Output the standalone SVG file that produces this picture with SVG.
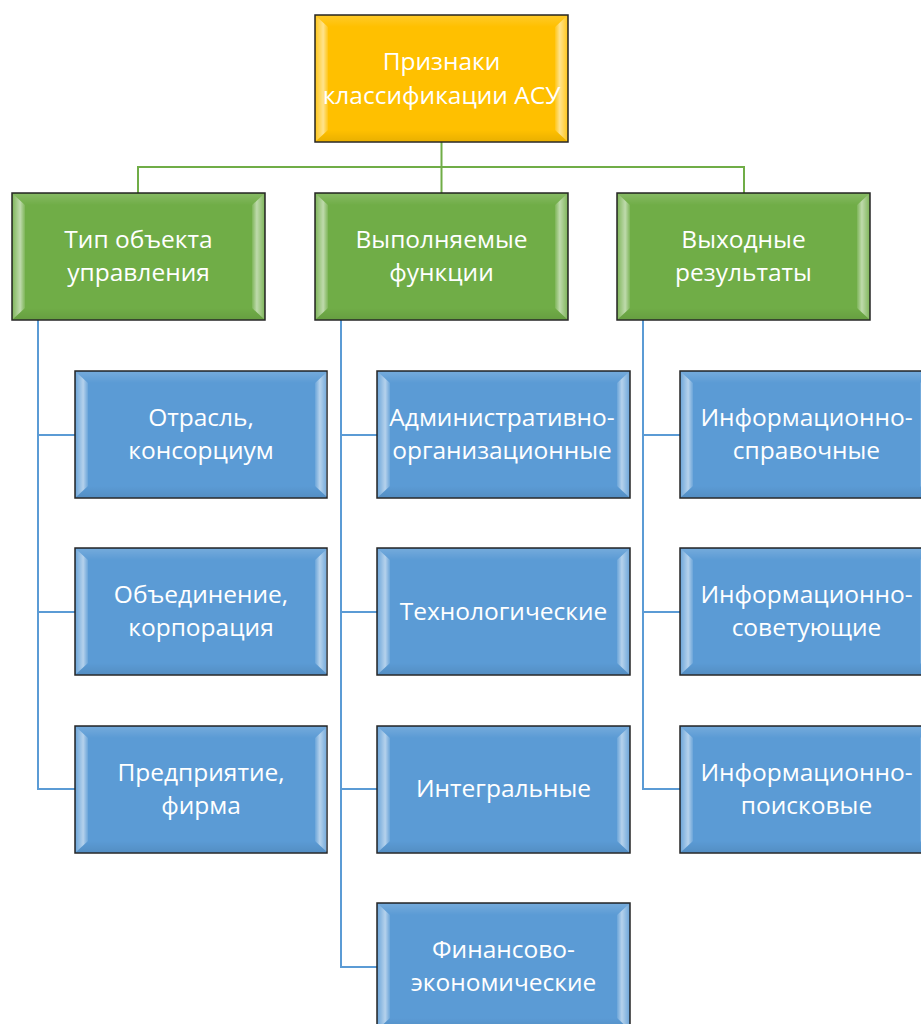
<svg xmlns="http://www.w3.org/2000/svg" width="921" height="1024" viewBox="0 0 921 1024">
<style>
.box{stroke:#262626;stroke-width:1.5}
.o{fill:#FFC000}
.g{fill:#70AD47}
.b{fill:#5B9BD5}
.bl{fill:url(#bevL)}
.br{fill:url(#bevR)}
.bt{fill:url(#bevT)}
.bb{fill:url(#bevB)}
.t{font-family:"Open Sans","Liberation Sans",sans-serif;font-size:24.5px;fill:#ffffff;text-anchor:middle}
.cg{fill:none;stroke:#70AD47;stroke-width:2}
.cb{fill:none;stroke:#5B9BD5;stroke-width:2}
</style>
<defs>
<linearGradient id="bevL" x1="0" y1="0" x2="1" y2="0">
<stop offset="0" stop-color="#ffffff" stop-opacity="0.15"/>
<stop offset="0.6" stop-color="#ffffff" stop-opacity="0.55"/>
<stop offset="1" stop-color="#ffffff" stop-opacity="0.1"/>
</linearGradient>
<linearGradient id="bevR" x1="1" y1="0" x2="0" y2="0">
<stop offset="0" stop-color="#ffffff" stop-opacity="0.15"/>
<stop offset="0.6" stop-color="#ffffff" stop-opacity="0.55"/>
<stop offset="1" stop-color="#ffffff" stop-opacity="0.1"/>
</linearGradient>
<linearGradient id="bevT" x1="0" y1="0" x2="0" y2="1">
<stop offset="0" stop-color="#ffffff" stop-opacity="0.15"/>
<stop offset="1" stop-color="#ffffff" stop-opacity="0"/>
</linearGradient>
<linearGradient id="bevB" x1="0" y1="1" x2="0" y2="0">
<stop offset="0" stop-color="#000000" stop-opacity="0.08"/>
<stop offset="1" stop-color="#000000" stop-opacity="0"/>
</linearGradient>
<g id="bevel">
<polygon class="bt" points="1,1 252,1 240,12 13,12"/>
<polygon class="bb" points="1,126 252,126 240,115 13,115"/>
<polygon class="bl" points="1,1 13,12 13,115 1,126"/>
<polygon class="br" points="252,1 240,12 240,115 252,126"/>
</g>
</defs>

<g id="connectors">
<path class="cg" d="M441.5,142 V193 M138,193 V167 H744 V193"/>
<path class="cb" d="M38,320 V789 H75 M38,435 H75 M38,612 H75"/>
<path class="cb" d="M341,320 V967 H377 M341,435 H377 M341,612 H377 M341,789 H377"/>
<path class="cb" d="M643,320 V789 H680 M643,435 H680 M643,612 H680"/>
</g>

<g id="root">
<rect class="box o" x="315" y="15" width="253" height="127"/>
<use href="#bevel" x="315" y="15"/>
<text class="t" x="441.5" y="70">Признаки</text>
<text class="t" x="441.5" y="104">классификации АСУ</text>
</g>

<g id="type">
<rect class="box g" x="12" y="193" width="253" height="127"/>
<use href="#bevel" x="12" y="193"/>
<text class="t" x="138.5" y="248">Тип объекта</text>
<text class="t" x="138.5" y="281">управления</text>
</g>
<g id="functions">
<rect class="box g" x="315" y="193" width="253" height="127"/>
<use href="#bevel" x="315" y="193"/>
<text class="t" x="441.5" y="248">Выполняемые</text>
<text class="t" x="441.5" y="281">функции</text>
</g>
<g id="results">
<rect class="box g" x="617" y="193" width="253" height="127"/>
<use href="#bevel" x="617" y="193"/>
<text class="t" x="743.5" y="248">Выходные</text>
<text class="t" x="743.5" y="281">результаты</text>
</g>

<g id="branch">
<rect class="box b" x="75" y="371" width="252" height="127"/>
<use href="#bevel" x="75" y="371"/>
<text class="t" x="201" y="426">Отрасль,</text>
<text class="t" x="201" y="459">консорциум</text>
</g>
<g id="corporation">
<rect class="box b" x="75" y="548" width="252" height="127"/>
<use href="#bevel" x="75" y="548"/>
<text class="t" x="201" y="603">Объединение,</text>
<text class="t" x="201" y="636">корпорация</text>
</g>
<g id="enterprise">
<rect class="box b" x="75" y="726" width="252" height="127"/>
<use href="#bevel" x="75" y="726"/>
<text class="t" x="201" y="781">Предприятие,</text>
<text class="t" x="201" y="814">фирма</text>
</g>

<g id="admin">
<rect class="box b" x="377" y="371" width="253" height="127"/>
<use href="#bevel" x="377" y="371"/>
<text class="t" x="502" y="426">Административно-</text>
<text class="t" x="502" y="459">организационные</text>
</g>
<g id="tech">
<rect class="box b" x="377" y="548" width="253" height="127"/>
<use href="#bevel" x="377" y="548"/>
<text class="t" x="503.5" y="620">Технологические</text>
</g>
<g id="integral">
<rect class="box b" x="377" y="726" width="253" height="127"/>
<use href="#bevel" x="377" y="726"/>
<text class="t" x="503.5" y="797">Интегральные</text>
</g>
<g id="finance">
<rect class="box b" x="377" y="903" width="253" height="127"/>
<use href="#bevel" x="377" y="903"/>
<text class="t" x="503.5" y="958">Финансово-</text>
<text class="t" x="503.5" y="991">экономические</text>
</g>

<g id="reference">
<rect class="box b" x="680" y="371" width="253" height="127"/>
<use href="#bevel" x="680" y="371"/>
<text class="t" x="806.5" y="426">Информационно-</text>
<text class="t" x="806.5" y="459">справочные</text>
</g>
<g id="advisory">
<rect class="box b" x="680" y="548" width="253" height="127"/>
<use href="#bevel" x="680" y="548"/>
<text class="t" x="806.5" y="603">Информационно-</text>
<text class="t" x="806.5" y="636">советующие</text>
</g>
<g id="search">
<rect class="box b" x="680" y="726" width="253" height="127"/>
<use href="#bevel" x="680" y="726"/>
<text class="t" x="806.5" y="781">Информационно-</text>
<text class="t" x="806.5" y="814">поисковые</text>
</g>
</svg>
